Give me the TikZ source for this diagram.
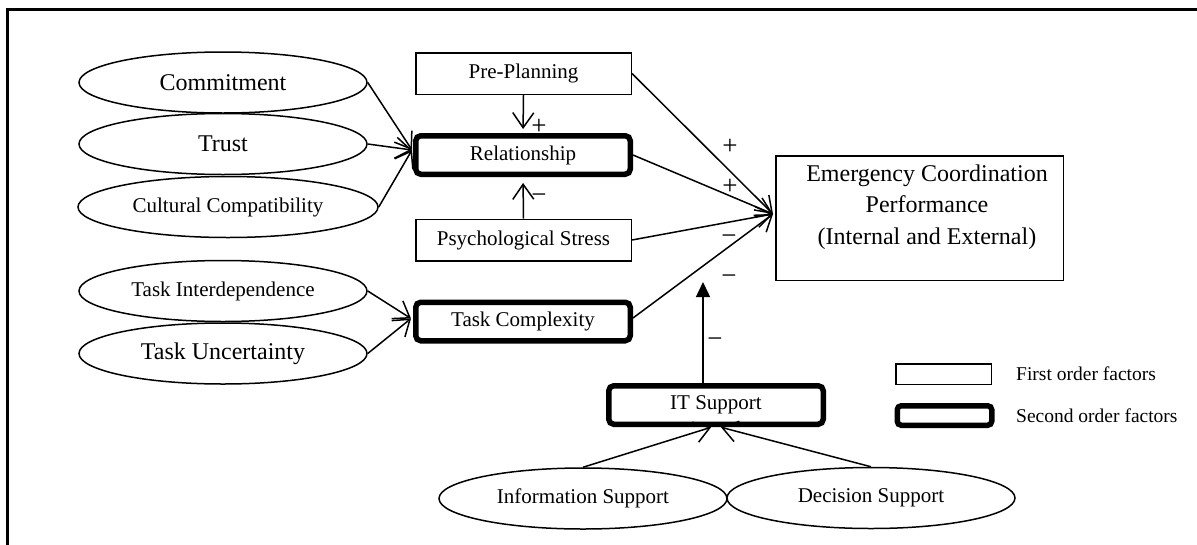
\documentclass[tikz,border=0pt]{standalone}
\usepackage{fontspec}
\setmainfont{Liberation Serif}
\usetikzlibrary{shapes.geometric,arrows.meta,calc}
\begin{document}
\begin{tikzpicture}[x=1pt,y=-1pt,
  fs/.style={font=\fontsize{21}{25}\selectfont},
  fl/.style={font=\fontsize{24}{31.7}\selectfont},
  fleg/.style={font=\fontsize{19.5}{23}\selectfont},
  oval/.style={ellipse, draw, line width=1.5pt, minimum width=288pt, minimum height=61pt, inner sep=0pt},
  firstbox/.style={rectangle, draw, line width=1.5pt, minimum width=215.5pt, minimum height=41.5pt, inner sep=0pt},
  secondbox/.style={rectangle, draw, line width=5.5pt, rounded corners=5pt, minimum width=214.5pt, minimum height=38.5pt, inner sep=0pt},
  link/.style={draw, line width=1.5pt, -{Straight Barb[length=15pt,width=21pt]}},
  modlink/.style={draw, line width=1.5pt, -{Triangle[length=15pt,width=14pt]}},
  sign/.style={font=\fontsize{27}{30}\selectfont, inner sep=0pt}
]
\useasboundingbox (0,0) rectangle (1197,544);
% frame (cropped)
\draw[line width=3pt] (7.5,620) -- (7.5,9.5) -- (1260,9.5);

% left ellipses
\node[oval, fl] (commit) at (223,82.5) {Commitment};
\node[oval, fl] (trust) at (223,144) {Trust};
\node[oval, fs, minimum width=300pt] (cult) at (228,207) {Cultural Compatibility};
\node[oval, fs] (tinter) at (223,291) {Task Interdependence};
\node[oval, fl] (tunc) at (223,353.5) {Task Uncertainty};

% boxes
\node[firstbox, fs] (pre) at (523.5,73.5) {Pre-Planning};
\node[secondbox, fs] (rel) at (523,155) {Relationship};
\node[firstbox, fs] (psy) at (523.5,240) {Psychological Stress};
\node[secondbox, fs] (tc) at (523,321.5) {Task Complexity};
\node[secondbox, fs] (its) at (716,405) {IT Support};

% outcome
\node[rectangle, draw, line width=1.5pt, minimum width=287.5pt, minimum height=124.5pt, inner sep=0pt] (perf) at (919.5,218) {};
\node[fl, align=center] (perftext) at (927,207) {Emergency Coordination\\Performance\\(Internal and External)};

% bottom ellipses
\node[oval, fs] (info) at (583,498.5) {Information Support};
\node[oval, fs] (dec) at (871,498) {Decision Support};

% legend
\node[rectangle, draw, line width=1.5pt, minimum width=95.5pt, minimum height=20.5pt, inner sep=0pt] (leg1) at (943.5,374) {};
\node[rectangle, draw, line width=5.5pt, rounded corners=4pt, minimum width=94.5pt, minimum height=19.5pt, inner sep=0pt] (leg2) at (944.5,415.5) {};
\node[fleg, anchor=west, inner sep=0pt] (leg1t) at (1016,374) {First order factors};
\node[fleg, anchor=west, inner sep=0pt] (leg2t) at (1016,415.5) {Second order factors};

% helper coordinates
\coordinate (relin) at ($(rel.west)+(-1,-5)$);
\coordinate (tcin) at ($(tc.west)+(-2,-3)$);
\coordinate (pin) at ($(perf.west)+(-2,-4)$);
\coordinate (modtip) at (703,282);

% connectors
\draw[link] (commit.east) -- (relin);
\draw[link] (trust.east) -- (relin);
\draw[link] (cult.east) -- (relin);
\draw[link] (tinter.east) -- (tcin);
\draw[link] (tunc.east) -- (tcin);
\draw[link, shorten >=4pt] (pre.south) -- (rel.north);
\draw[link, shorten >=6pt] (psy.north) -- (rel.south);
\draw[link] (pre.east) -- (pin);
\draw[link] (rel.east) -- (pin);
\draw[link] (psy.east) -- (pin);
\draw[link] ($(tc.east)+(0,-3.5)$) -- (pin);
\draw[modlink] ($(its.north)+(-13,0)$) -- (modtip);
\draw[link, shorten >=1pt] (info.north) -- ($(its.south)+(-4,0)$);
\draw[link, shorten >=1pt] (dec.north) -- ($(its.south)+(4,0)$);

% signs
\node[sign] (s1) at (539,127) {+};
\node[sign] (s2) at (539,199) {−};
\node[sign] (s3) at (730,147) {+};
\node[sign] (s4) at (730,187) {+};
\node[sign] (s5) at (729,240) {−};
\node[sign] (s6) at (729,280) {−};
\node[sign] (s7) at (715,343) {−};
\end{tikzpicture}
\end{document}
